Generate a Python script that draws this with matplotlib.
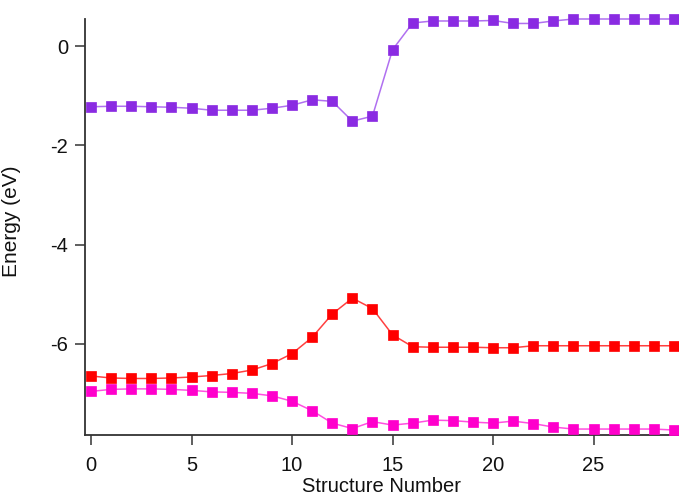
import matplotlib
matplotlib.use("Agg")
import matplotlib.pyplot as plt
import numpy as np

plt.rcParams['font.family'] = ['Liberation Sans', 'DejaVu Sans']

structure = list(range(30))
purple = [-1.22, -1.21, -1.21, -1.22, -1.23, -1.25, -1.29, -1.29, -1.29, -1.25,
          -1.19, -1.08, -1.11, -1.51, -1.41, -0.07, 0.47, 0.51, 0.51, 0.51,
          0.52, 0.46, 0.46, 0.51, 0.55, 0.55, 0.55, 0.55, 0.55, 0.55]
red = [-6.65, -6.69, -6.70, -6.70, -6.69, -6.67, -6.64, -6.60, -6.53, -6.40,
       -6.20, -5.87, -5.40, -5.08, -5.29, -5.82, -6.06, -6.07, -6.07, -6.07,
       -6.08, -6.08, -6.04, -6.04, -6.04, -6.04, -6.04, -6.04, -6.04, -6.04]
magenta = [-6.96, -6.92, -6.91, -6.91, -6.92, -6.94, -6.97, -6.98, -7.00, -7.05,
           -7.16, -7.35, -7.60, -7.71, -7.57, -7.64, -7.60, -7.54, -7.55, -7.58,
           -7.60, -7.56, -7.61, -7.68, -7.72, -7.72, -7.72, -7.72, -7.72, -7.74]

xticks = [0, 5, 10, 15, 20, 25]
yticks = [0, -2, -4, -6]

fig = plt.figure(figsize=(6.79, 4.99), dpi=100)
ax = fig.add_axes([85/679, 64/499, 594/679, 416/499])

series = [
    (purple, '#b070f0', '#8a2be2'),
    (red, '#ff4040', '#ff0000'),
    (magenta, '#ff50e0', '#ff00cc'),
]
for ys, lc, mc in series:
    ax.plot(structure, ys, color=lc, lw=1.1, zorder=2, clip_on=False)
    ax.plot(structure, ys, ls='none', marker='s', ms=6.5, mfc=mc, mec=mc,
            mew=0.5, zorder=3, clip_on=False)

ax.set_xlim(-0.3, 29.25)
ax.set_ylim(-7.84, 0.55)
ax.set_xticks(xticks)
ax.set_yticks(yticks)
ax.set_yticklabels([str(v) for v in yticks])

for s in ['top', 'right']:
    ax.spines[s].set_visible(False)
for s in ['left', 'bottom']:
    ax.spines[s].set_color('#333333')
    ax.spines[s].set_linewidth(1.3)
ax.tick_params(direction='out', length=7, width=1.1, color='#333333',
               labelsize=14.5, labelcolor='#111111')
ax.tick_params(axis='y', pad=5)
ax.tick_params(axis='x', pad=8)

ax.set_xlabel('Structure Number', fontsize=14.5, color='#111111')
ax.set_ylabel('Energy (eV)', fontsize=15, color='#111111')
ax.xaxis.set_label_coords(0.5, -0.1)
ax.yaxis.set_label_coords(-0.108, 0.515)

fig.savefig('out.png', dpi=100)
